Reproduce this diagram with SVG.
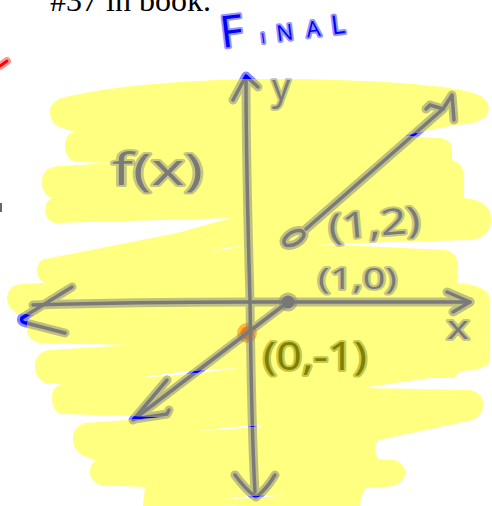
<svg xmlns="http://www.w3.org/2000/svg" xmlns:xlink="http://www.w3.org/1999/xlink" width="492" height="506" viewBox="0 0 492 506">
  <style>
    .ink { fill: none; stroke-linecap: round; stroke-linejoin: round; }
    .bh { stroke: #3c3cff; stroke-width: 9; }
    .bc { stroke: #0000ff; stroke-width: 3.5; }
    .gh { stroke: #808080; stroke-width: 9; }
    .gc { stroke: #7a7a7a; stroke-width: 3.5; }
    .lab { font-family: "Open Sans", "DejaVu Sans", sans-serif; fill: #7a7a7a; stroke: #808080; stroke-opacity: 0.45; stroke-width: 4; paint-order: stroke; stroke-linejoin: round; }
    .olive { fill: #808000; stroke: #808000; stroke-opacity: 0.45; }
    .blue { font-family: "Open Sans", "DejaVu Sans", sans-serif; fill: #0000ff; stroke: #3c3cff; stroke-opacity: 0.55; stroke-width: 4; paint-order: stroke; stroke-linejoin: round; }
  </style>
  <defs>
    <path id="hl" fill-rule="evenodd" clip-rule="evenodd" d="M50,112 Q50,98 75,95 C120,85 200,79 270,79 C360,79 440,84 470,92 Q492,98 488,112 Q484,124 455,125 L400,136 L440,138 Q452,140 452,150 L452,160 Q464,164 464,178 L464,198 Q490,200 491,218 Q491,238 470,240 L318,244 L445,250 Q458,252 458,266 L457,283 Q489,285 490,300 L490,360 Q488,370 462,371 Q455,374 455,378 L430,378 L360,388 L470,390 Q484,394 483,405 Q482,419 468,421 L378,440 Q372,450 378,459 L395,460 Q406,465 405,474 Q403,486 385,487 L366,488 Q360,496 360,506 L143,506 L145,487 L100,485 Q90,481 90,472 Q90,463 96,461 L82,455 Q73,450 73,439 Q73,426 85,423 L170,417 L60,414 Q52,410 52,398 Q52,386 62,384 L45,383 Q35,378 35,366 Q35,352 50,350 L133,345 L40,343 Q27,340 27,329 Q27,316 35,315 L17,313 Q7,308 7,298 Q8,286 20,284 L45,283 Q37,280 37,270 Q38,260 45,259 L177,233 L231,218 L55,223 Q45,220 45,211 Q45,201 52,198 Q42,195 42,181 Q42,167 60,166 L117,163 L75,162 Q65,158 65,147 Q65,133 75,132 L60,127 Q50,124 50,112 Z M138,378 Q190,369 238,368 Q190,375 138,378 Z M198,431 Q240,425 273,425 Q240,429 198,431 Z M210,251 Q228,247 243,246 Q228,250 210,251 Z M228,499 Q256,494 288,495 Q256,498 228,499 Z"/>
    <clipPath id="hlclip"><use xlink:href="#hl"/></clipPath>
    <g id="art">
      <path d="M246,78 C246,150 248,230 250,300 C251,380 252,440 255,492"/>
      <path d="M233,100 L246,76 L258,87"/>
      <path d="M235,475 Q246,490 256,497 Q266,490 275,475"/>
      <path d="M33,305 C100,303 200,302 250,302 L470,302"/>
      <path d="M72,287 L22,318 Q20,322 26,323 L65,333"/>
      <path d="M447,292 L470,302 L453,312"/>
      <path d="M288,302 L133,420"/>
      <path d="M167,380 L134,419 L167,414 L169,410"/>
      <path d="M306,229 L443,109 L452,95 L454,120"/>
      <path d="M426,109 L430,105 L443,109"/>
      <ellipse cx="294" cy="238" rx="11" ry="6" transform="rotate(-30 294 238)"/>
    </g>
  </defs>

  <rect width="492" height="506" fill="#ffffff"/>

  <g id="heading">
    <text x="50" y="11" font-family="Liberation Serif, serif" font-size="32" fill="#000">#37 in book.</text>
  </g>

  <g id="marks">
    <path d="M0,66 L7,61" class="ink" stroke="#ff0000" stroke-opacity="0.4" stroke-width="8"/>
    <path d="M0,66 L7,61" class="ink" stroke="#ff0000" stroke-width="3"/>
    <rect x="0" y="203" width="2" height="9" fill="#666"/>
  </g>

  <g id="ink-under" class="ink">
    <use xlink:href="#art" class="bh" opacity="0.6"/>
    <use xlink:href="#art" class="bc"/>
  </g>

  <g id="highlight">
    <use xlink:href="#hl" fill="#ffff80"/>
  </g>

  <g id="point-orange">
    <circle cx="247" cy="333" r="10" fill="#ff8000" opacity="0.55"/>
    <circle cx="247" cy="333" r="6.5" fill="#ff8000"/>
  </g>

  <g id="connectors" class="ink" clip-path="url(#hlclip)">
    <use xlink:href="#art" class="gh" opacity="0.5"/>
    <use xlink:href="#art" class="gc"/>
  </g>

  <g id="point-filled">
    <circle cx="288" cy="302" r="9.5" fill="#808080" opacity="0.5"/>
    <circle cx="288" cy="302" r="6.5" fill="#777"/>
  </g>

  <g id="title">
    <text class="blue" transform="rotate(-7 222 48)" x="222" y="48"><tspan font-size="44">F</tspan><tspan x="262" font-size="14">I</tspan><tspan x="278" font-size="22">N</tspan><tspan x="308" font-size="22">A</tspan><tspan x="333" font-size="26">L</tspan></text>
  </g>

  <g id="labels">
    <text class="lab" x="272" y="100" font-size="36">y</text>
    <text class="lab" x="112" y="185" font-size="44" textLength="91" lengthAdjust="spacingAndGlyphs">f(x)</text>
    <text class="lab" x="328" y="236" font-size="36" textLength="92" lengthAdjust="spacingAndGlyphs" transform="rotate(-5 374 222)">(1,2)</text>
    <text class="lab" x="318" y="289" font-size="30" textLength="79" lengthAdjust="spacingAndGlyphs">(1,0)</text>
    <text class="lab" x="447" y="339" font-size="32" textLength="22" lengthAdjust="spacingAndGlyphs">x</text>
    <text class="lab olive" x="263" y="370" font-size="38" textLength="104" lengthAdjust="spacingAndGlyphs">(0,-1)</text>
  </g>
</svg>
